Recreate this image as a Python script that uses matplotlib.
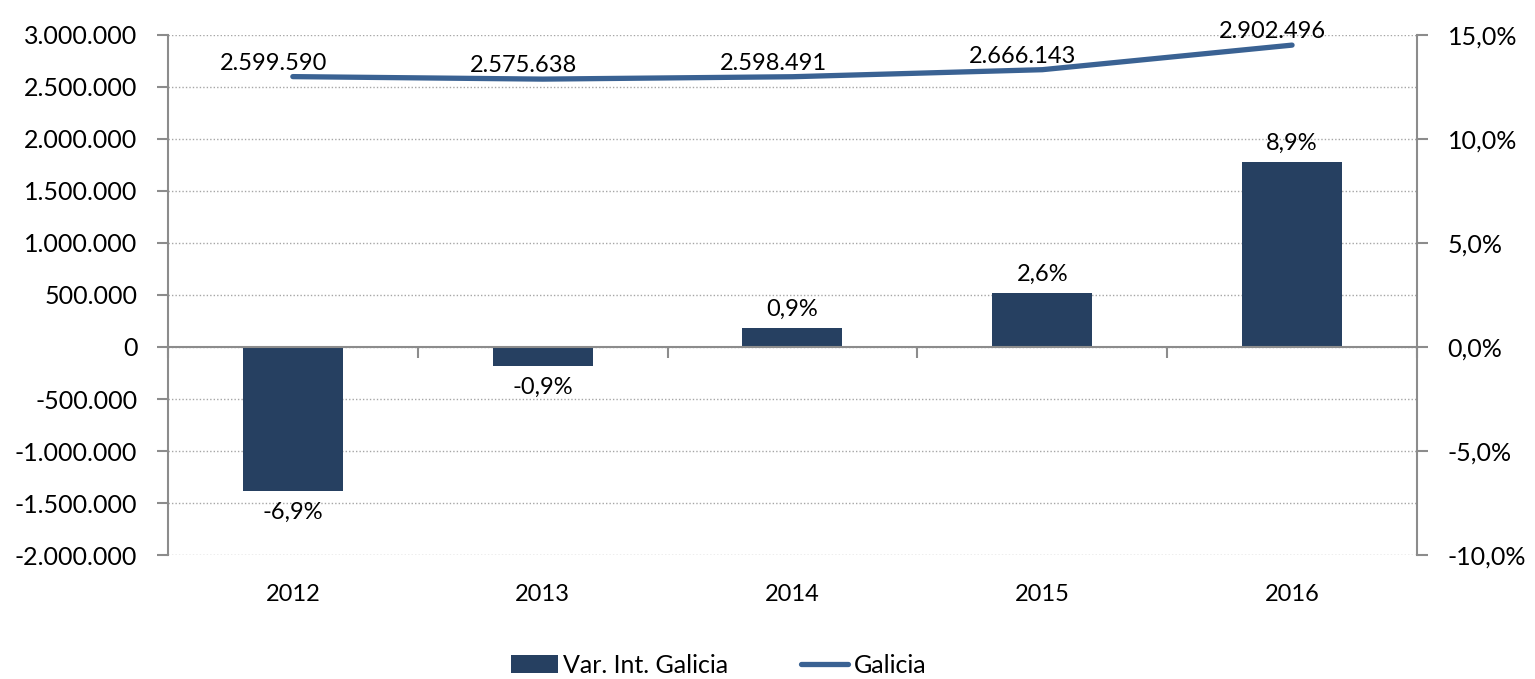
import matplotlib.pyplot as plt
import matplotlib.transforms as mtransforms
from matplotlib.ticker import FuncFormatter, MultipleLocator
from matplotlib.patches import Patch
from matplotlib.lines import Line2D

plt.rcParams['font.family'] = ['Lato', 'DejaVu Sans']

years = ['2012', '2013', '2014', '2015', '2016']
galicia = [2599590, 2575638, 2598491, 2666143, 2902496]
var_pct = [-6.9, -0.9, 0.9, 2.6, 8.9]

bar_color = '#264061'
line_color = '#3A6293'
axis_gray = '#8C8C8C'
fs = 18


def thousands(v, pos=None):
    s = f'{abs(int(round(v))):,}'.replace(',', '.')
    return '-' + s if v < 0 else s


def pct(v, pos=None):
    return f'{v:.1f}%'.replace('.', ',')


fig = plt.figure(figsize=(15.35, 6.79), dpi=100)
ax = fig.add_axes([0.1094, 0.1826, 0.8137, 0.7659])
ax2 = ax.twinx()

# bars on the percent axis, kept behind the line axis
ax.set_zorder(ax2.get_zorder() + 1)
ax.patch.set_visible(False)

x = list(range(len(years)))
ax2.bar(x, var_pct, width=0.4, color=bar_color, zorder=2)
ax2.set_ylim(-10, 15)
ax2.yaxis.set_major_locator(MultipleLocator(5))
ax2.yaxis.set_minor_locator(MultipleLocator(2.5))
ax2.yaxis.set_major_formatter(FuncFormatter(pct))
ax2.grid(axis='y', which='both', color='#A6A6A6', linestyle=(0, (1, 1.5)), linewidth=1.0)
ax2.set_axisbelow(True)
ax2.tick_params(axis='y', which='major', length=8, width=1.5, color=axis_gray,
                labelsize=fs, pad=14)
ax2.tick_params(axis='y', which='minor', length=0)
ax2.tick_params(axis='x', length=0, labelbottom=False)

for xi, v in zip(x, var_pct):
    if v >= 0:
        ax2.annotate(pct(v), (xi, v), xytext=(0, 6), textcoords='offset points',
                     ha='center', va='bottom', fontsize=fs - 1)
    else:
        ax2.annotate(pct(v), (xi, v), xytext=(0, -8), textcoords='offset points',
                     ha='center', va='top', fontsize=fs - 1)

# line on the left axis
ax.plot(x, galicia, color=line_color, linewidth=3.8, solid_capstyle='round', zorder=3)
ax.set_ylim(-2000000, 3000000)
ax.yaxis.set_major_locator(MultipleLocator(500000))
ax.yaxis.set_major_formatter(FuncFormatter(thousands))
ax.tick_params(axis='y', length=8, width=1.5, color=axis_gray, labelsize=fs, pad=14)

for xi, v in zip(x, galicia):
    ax.annotate(thousands(v), (xi, v), xytext=(-14, 5), textcoords='offset points',
                ha='center', va='baseline', fontsize=fs - 1)

ax.set_xlim(-0.5, len(years) - 0.5)
ax.set_xticks([i - 0.5 for i in range(len(years) + 1)])
ax.tick_params(axis='x', length=8, width=1.5, color=axis_gray, labelbottom=False,
               direction='out')
ax.spines['bottom'].set_position(('data', 0))

for a in (ax, ax2):
    for side in ('top', 'bottom', 'left', 'right'):
        a.spines[side].set_visible(False)
ax.spines['left'].set_visible(True)
ax.spines['bottom'].set_visible(True)
ax2.spines['right'].set_visible(True)
for sp in (ax.spines['left'], ax.spines['bottom'], ax2.spines['right']):
    sp.set_color(axis_gray)
    sp.set_linewidth(1.5)

trans = mtransforms.blended_transform_factory(ax.transData, ax.transAxes)
for xi, yr in zip(x, years):
    ax.text(xi, -0.075, yr, transform=trans, ha='center', va='center', fontsize=fs - 1)

handles = [Patch(facecolor=bar_color, edgecolor='none'),
           Line2D([0], [0], color=line_color, linewidth=3.8, solid_capstyle='round')]
fig.legend(handles, ['Var. Int. Galicia', 'Galicia'], loc='center',
           bbox_to_anchor=(0.468, 0.02), ncol=2, frameon=False, fontsize=fs,
           handlelength=1.9, handleheight=0.7, handletextpad=0.2, columnspacing=2.9)

fig.savefig('out.png', dpi=100)
